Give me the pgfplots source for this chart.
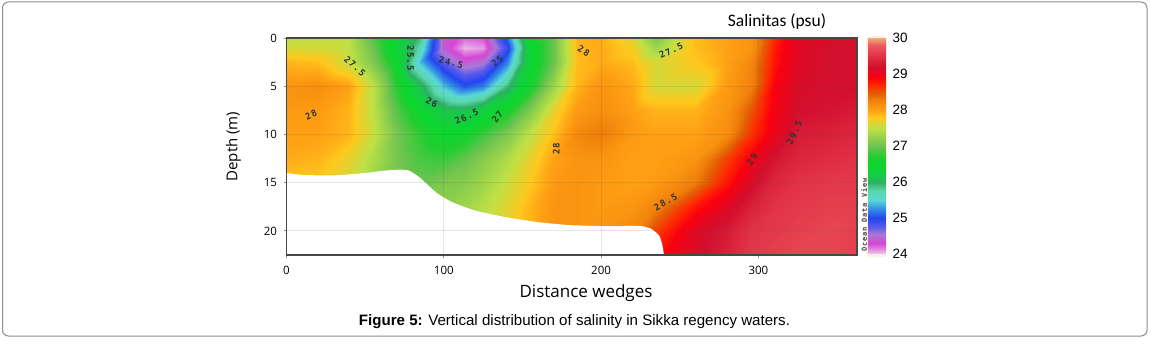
\documentclass[border=0pt]{standalone}
\usepackage{pgfplots}
\pgfplotsset{compat=1.18}
\usepackage{fontspec}
\setmainfont{Liberation Sans}
\newfontfamily\ofont{Open Sans}
\newfontfamily\cfont{Carlito}
\newfontfamily\lfont[LetterSpace=12]{DejaVu Sans Mono}
\pgfplotsset{colormap={sal}{
rgb255(0pt)=(238,205,238)
rgb255(15pt)=(224,130,224)
rgb255(30pt)=(214,70,210)
rgb255(55pt)=(170,120,215)
rgb255(75pt)=(90,90,235)
rgb255(100pt)=(35,70,240)
rgb255(125pt)=(50,140,230)
rgb255(150pt)=(90,215,215)
rgb255(175pt)=(90,215,170)
rgb255(200pt)=(45,175,100)
rgb255(215pt)=(25,200,75)
rgb255(250pt)=(10,215,45)
rgb255(270pt)=(35,205,50)
rgb255(300pt)=(110,195,80)
rgb255(350pt)=(190,225,70)
rgb255(380pt)=(255,200,30)
rgb255(400pt)=(255,160,20)
rgb255(430pt)=(238,125,10)
rgb255(445pt)=(228,95,5)
rgb255(470pt)=(255,40,0)
rgb255(490pt)=(250,0,15)
rgb255(520pt)=(210,15,45)
rgb255(550pt)=(225,50,70)
rgb255(580pt)=(235,90,95)
rgb255(600pt)=(240,170,120)
}}
\begin{document}
\begin{tikzpicture}[x=1pt,y=1pt]
\path (0pt,0pt) rectangle (1151pt,343pt);
\draw[draw=black!45,line width=1pt,rounded corners=6pt] (2.5pt,7pt) rectangle (1147pt,341pt);
\fill[fill={rgb,255:red,250;green,240;blue,225},rounded corners=4pt] (866pt,86pt) rectangle (887pt,307pt);
\begin{axis}[
  at={(286.5pt,88pt)},anchor=south west,
  scale only axis,width=570.5pt,height=217pt,
  xmin=0,xmax=362.7,ymin=0,ymax=22.5,y dir=reverse,
  xtick={0,100,200,300},ytick={0,5,10,15,20},
  tick align=outside,tick pos=left,
  major tick length=3pt,
  tick style={draw=black!45,line width=0.8pt},
  axis on top,
  axis line style={draw=black!72,line width=1.5pt},
  grid=major,grid style={black!70,opacity=0.13,line width=1pt},
  /pgf/number format/assume math mode=true,
  tick label style={font=\ofont\fontsize{11.5}{13}\selectfont},
  xticklabel style={yshift=-5pt},
  yticklabel style={xshift=-3pt},
  xlabel={\ofont\fontsize{17}{19}\selectfont Distance wedges},
  ylabel={\ofont\fontsize{15}{17}\selectfont Depth (m)},
  xlabel style={at={(axis description cs:0.525,0)},anchor=north,yshift=-26pt},
  ylabel style={at={(axis description cs:0,0.5)},anchor=south,yshift=42pt},
  colormap name=sal,point meta min=24,point meta max=30,
]
\addplot[surf,shader=interp,mesh/cols=23,point meta=explicit]
table[x=x,y=y,meta=z,row sep=\\]{
x y z\\
0 0 27.5\\ 20 0 27.5\\ 40 0 27.5\\ 55 0 26.9\\ 70 0 26.3\\ 85 0 25.9\\ 100 0 24.4\\ 113 0 24.2\\ 125 0 24.25\\ 140 0 25.1\\ 155 0 26.6\\ 170 0 27.0\\ 185 0 27.9\\ 200 0 27.95\\ 220 0 27.65\\ 235 0 27.1\\ 260 0 27.85\\ 280 0 28.0\\ 295 0 28.1\\ 310 0 28.7\\ 325 0 29.1\\ 345 0 29.15\\ 363 0 29.2\\
0 1 27.6\\ 20 1 27.6\\ 40 1 27.5\\ 55 1 27.0\\ 70 1 26.35\\ 85 1 25.7\\ 100 1 24.4\\ 113 1 24.05\\ 125 1 24.1\\ 140 1 24.9\\ 155 1 26.4\\ 170 1 27.0\\ 185 1 27.9\\ 200 1 27.95\\ 220 1 27.75\\ 235 1 27.3\\ 260 1 27.85\\ 280 1 28.0\\ 295 1 28.1\\ 310 1 28.75\\ 325 1 29.1\\ 345 1 29.2\\ 363 1 29.2\\
0 2.5 27.9\\ 20 2.5 27.85\\ 40 2.5 27.55\\ 55 2.5 27.1\\ 70 2.5 26.5\\ 85 2.5 25.4\\ 100 2.5 24.75\\ 113 2.5 24.4\\ 125 2.5 24.5\\ 140 2.5 25.2\\ 155 2.5 26.4\\ 170 2.5 27.0\\ 185 2.5 27.85\\ 200 2.5 27.95\\ 220 2.5 27.85\\ 235 2.5 27.6\\ 260 2.5 27.8\\ 280 2.5 28.0\\ 295 2.5 28.2\\ 310 2.5 28.8\\ 325 2.5 29.1\\ 345 2.5 29.2\\ 363 2.5 29.2\\
0 5 28.1\\ 20 5 28.15\\ 40 5 28.0\\ 55 5 27.5\\ 70 5 26.7\\ 85 5 26.1\\ 100 5 25.4\\ 113 5 25.05\\ 125 5 25.2\\ 140 5 25.9\\ 155 5 26.6\\ 170 5 27.3\\ 185 5 27.9\\ 200 5 28.1\\ 220 5 27.95\\ 235 5 27.6\\ 260 5 27.6\\ 280 5 28.05\\ 295 5 28.25\\ 310 5 28.9\\ 325 5 29.15\\ 345 5 29.2\\ 363 5 29.2\\
0 7.5 28.05\\ 20 7.5 28.05\\ 40 7.5 27.9\\ 55 7.5 27.5\\ 70 7.5 26.9\\ 85 7.5 26.5\\ 100 7.5 26.15\\ 113 7.5 26.1\\ 125 7.5 26.3\\ 140 7.5 26.6\\ 155 7.5 27.1\\ 170 7.5 27.7\\ 185 7.5 28.05\\ 200 7.5 28.15\\ 220 7.5 28.0\\ 235 7.5 27.9\\ 260 7.5 27.9\\ 280 7.5 28.1\\ 295 7.5 28.5\\ 310 7.5 28.95\\ 325 7.5 29.2\\ 345 7.5 29.25\\ 363 7.5 29.3\\
0 10 28.0\\ 20 10 28.0\\ 40 10 27.9\\ 55 10 27.55\\ 70 10 27.05\\ 85 10 26.75\\ 100 10 26.5\\ 113 10 26.55\\ 125 10 26.8\\ 140 10 27.1\\ 155 10 27.5\\ 170 10 27.85\\ 185 10 28.2\\ 200 10 28.3\\ 220 10 28.05\\ 235 10 28.0\\ 260 10 28.0\\ 280 10 28.15\\ 295 10 28.65\\ 310 10 29.0\\ 325 10 29.3\\ 345 10 29.35\\ 363 10 29.4\\
0 12.5 27.95\\ 20 12.5 27.9\\ 40 12.5 27.7\\ 55 12.5 27.4\\ 70 12.5 27.05\\ 85 12.5 26.85\\ 100 12.5 26.8\\ 113 12.5 26.95\\ 125 12.5 27.15\\ 140 12.5 27.4\\ 155 12.5 27.7\\ 170 12.5 28.0\\ 185 12.5 28.1\\ 200 12.5 28.1\\ 220 12.5 28.0\\ 235 12.5 28.0\\ 260 12.5 28.1\\ 280 12.5 28.6\\ 295 12.5 28.95\\ 310 12.5 29.25\\ 325 12.5 29.4\\ 345 12.5 29.45\\ 363 12.5 29.5\\
0 15 27.8\\ 20 15 27.8\\ 40 15 27.6\\ 55 15 27.3\\ 70 15 27.1\\ 85 15 27.0\\ 100 15 27.1\\ 113 15 27.15\\ 125 15 27.3\\ 140 15 27.55\\ 155 15 27.8\\ 170 15 28.05\\ 185 15 28.1\\ 200 15 28.05\\ 220 15 28.0\\ 235 15 28.05\\ 260 15 28.3\\ 280 15 28.8\\ 295 15 29.15\\ 310 15 29.4\\ 325 15 29.5\\ 345 15 29.55\\ 363 15 29.55\\
0 17.5 27.7\\ 20 17.5 27.7\\ 40 17.5 27.5\\ 55 17.5 27.3\\ 70 17.5 27.2\\ 85 17.5 27.2\\ 100 17.5 27.2\\ 113 17.5 27.3\\ 125 17.5 27.45\\ 140 17.5 27.65\\ 155 17.5 27.9\\ 170 17.5 28.1\\ 185 17.5 28.1\\ 200 17.5 28.05\\ 220 17.5 28.1\\ 235 17.5 28.25\\ 260 17.5 28.8\\ 280 17.5 29.1\\ 295 17.5 29.35\\ 310 17.5 29.5\\ 325 17.5 29.55\\ 345 17.5 29.6\\ 363 17.5 29.6\\
0 20 27.7\\ 20 20 27.7\\ 40 20 27.5\\ 55 20 27.3\\ 70 20 27.2\\ 85 20 27.2\\ 100 20 27.3\\ 113 20 27.4\\ 125 20 27.5\\ 140 20 27.7\\ 155 20 27.9\\ 170 20 28.1\\ 185 20 28.1\\ 200 20 28.1\\ 220 20 28.2\\ 235 20 28.6\\ 260 20 29.1\\ 280 20 29.3\\ 295 20 29.5\\ 310 20 29.55\\ 325 20 29.6\\ 345 20 29.65\\ 363 20 29.6\\
0 22.5 27.7\\ 20 22.5 27.7\\ 40 22.5 27.5\\ 55 22.5 27.3\\ 70 22.5 27.2\\ 85 22.5 27.2\\ 100 22.5 27.3\\ 113 22.5 27.4\\ 125 22.5 27.5\\ 140 22.5 27.7\\ 155 22.5 27.9\\ 170 22.5 28.1\\ 185 22.5 28.1\\ 200 22.5 28.1\\ 220 22.5 28.2\\ 235 22.5 28.8\\ 260 22.5 29.15\\ 280 22.5 29.35\\ 295 22.5 29.55\\ 310 22.5 29.6\\ 325 22.5 29.65\\ 345 22.5 29.65\\ 363 22.5 29.6\\
};
\addplot[fill=white,draw=none,smooth,tension=0.3] coordinates {
(0,14) (10,14.2) (30,14.25) (50,14.0) (62,13.75) (72,13.65) (78,13.75) (85,14.5) (95,16) (105,17) (120,17.9) (140,18.6) (160,19.1) (180,19.4) (200,19.5) (225,19.5) (232,19.8) (237,20.5) (239,21.5) (240,22.5)} -- (axis cs:0,22.5) -- cycle;
\begin{scope}[every node/.style={text=black!80,inner sep=0pt,font=\lfont\bfseries\fontsize{9}{10}\selectfont}]
\node[rotate=-42] at (axis cs:43.5,2.9) {27.5};
\node[rotate=25] at (axis cs:15.6,8) {28};
\node[rotate=-90] at (axis cs:79,2.1) {25.5};
\node[rotate=-15] at (axis cs:104.6,2.55) {24.5};
\node[rotate=40] at (axis cs:134,2.4) {25};
\node[rotate=-30] at (axis cs:92.3,6.7) {26};
\node[rotate=25] at (axis cs:114.5,8.15) {26.5};
\node[rotate=50] at (axis cs:134,8.15) {27};
\node[rotate=90] at (axis cs:171.5,11.5) {28};
\node[rotate=-30] at (axis cs:189,1.35) {28};
\node[rotate=25] at (axis cs:244.5,1.3) {27.5};
\node[rotate=30] at (axis cs:241,17) {28.5};
\node[rotate=55] at (axis cs:296,12.6) {29};
\node[rotate=65] at (axis cs:323,9.8) {29.5};
\end{scope}
\end{axis}
\begin{axis}[
  at={(868pt,89pt)},anchor=south west,
  scale only axis,width=17pt,height=216pt,
  xmin=0,xmax=1,ymin=24,ymax=30,
  xtick=\empty,ytick={24,25,26,27,28,29,30},
  yticklabel pos=right,
  axis line style={draw=none},
  major tick length=0pt,
  /pgf/number format/assume math mode=true,
  tick label style={font=\fontsize{13.5}{15}\selectfont,xshift=4pt},
  colormap name=sal,
]
\addplot[surf,shader=interp,mesh/cols=2,point meta=explicit]
table[x=x,y=y,meta=z,row sep=\\]{
x y z\\
0 24 24\\ 1 24 24\\
0 30 30\\ 1 30 30\\
};
\end{axis}
\node[font=\cfont\fontsize{17.5}{19}\selectfont,anchor=center] at (777pt,321pt) {Salinitas (psu)};
\node[rotate=90,text=black!75,font=\lfont\bfseries\fontsize{7}{8}\selectfont] at (864pt,128pt) {Ocean Data View};
\node[font=\fontsize{15.1}{17}\selectfont,anchor=center] at (574.5pt,21pt) {\textbf{Figure 5:} Vertical distribution of salinity in Sikka regency waters.};
\end{tikzpicture}
\end{document}
